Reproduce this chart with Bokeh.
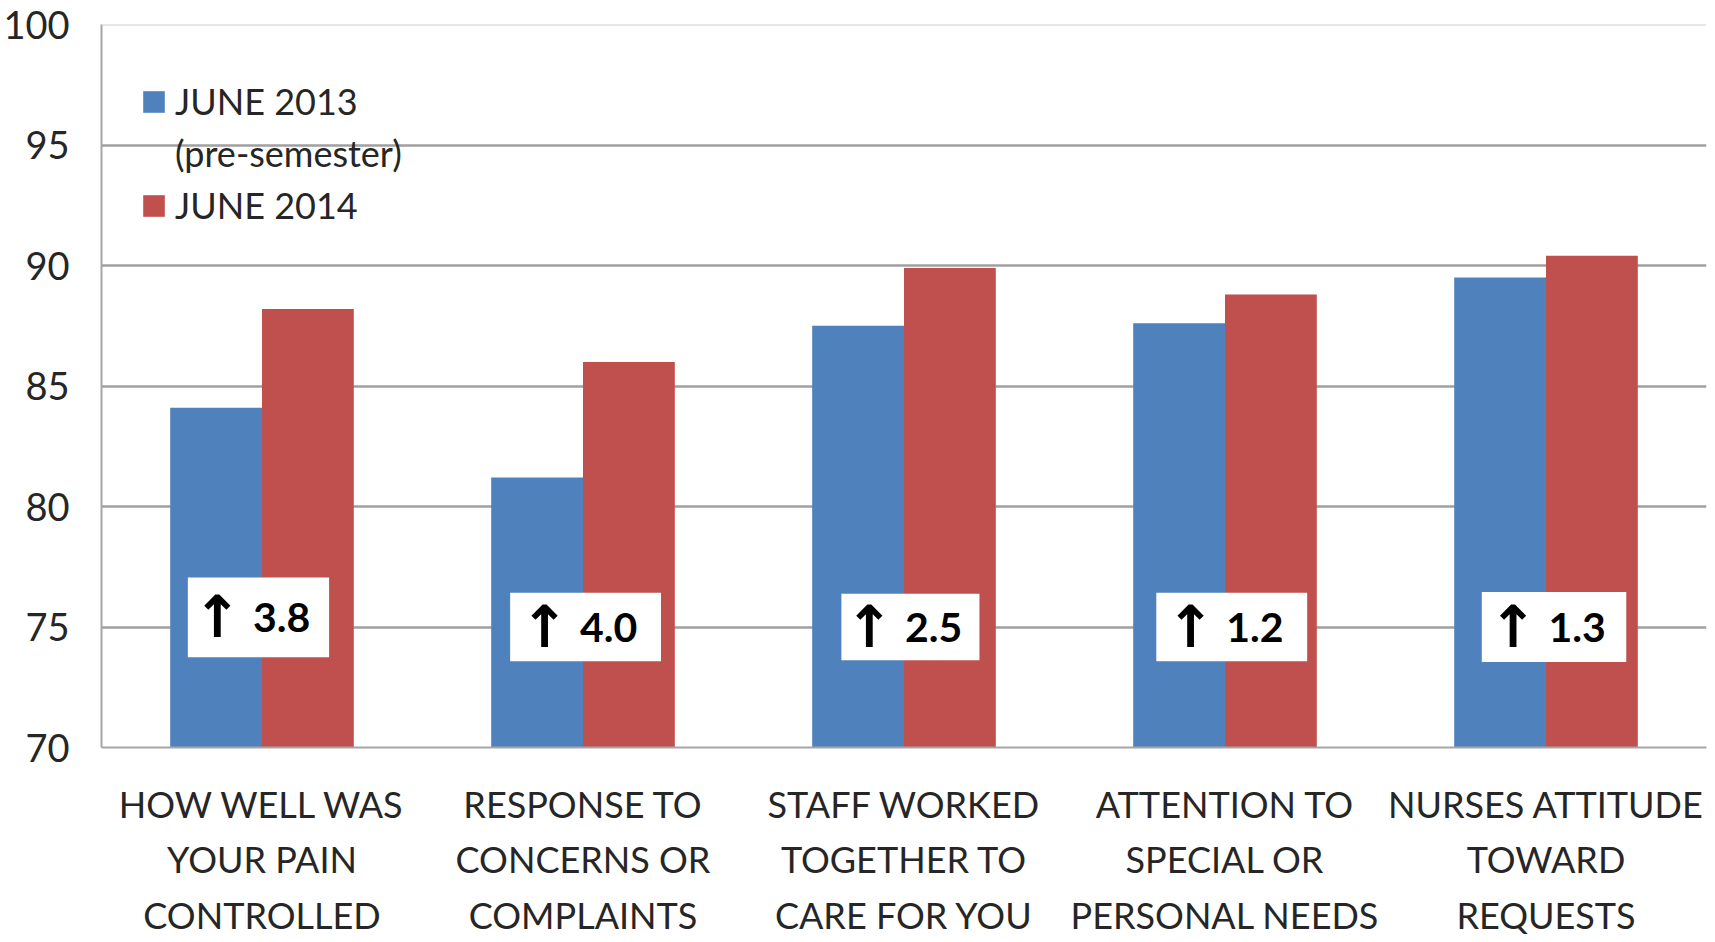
from bokeh.plotting import figure
from bokeh.models import (ColumnDataSource, Range1d, FixedTicker, Legend, LegendItem, Span)
from bokeh.core.properties import value
from bokeh.embed import file_html
from bokeh.resources import INLINE

# Survey items (HCAHPS-style questions)
categories = [
    "HOW WELL WAS\nYOUR PAIN\nCONTROLLED",
    "RESPONSE TO\nCONCERNS OR\nCOMPLAINTS",
    "STAFF WORKED\nTOGETHER TO\nCARE FOR YOU",
    "ATTENTION TO\nSPECIAL OR\nPERSONAL NEEDS",
    "NURSES ATTITUDE\nTOWARD\nREQUESTS",
]
june_2013 = [84.1, 81.2, 87.5, 87.6, 89.5]
june_2014 = [88.2, 86.0, 89.9, 88.8, 90.4]
changes = ["3.8", "4.0", "2.5", "1.2", "1.3"]
y_ticks = [70, 75, 80, 85, 90, 95, 100]

BLUE = "#4f81bd"
RED = "#c0504d"
FONT = "Lato"
TEXT = "#262626"

n = len(categories)
centers = [i + 0.5 for i in range(n)]
bar_w = 0.286

p = figure(width=1715, height=942, output_backend="svg", toolbar_location=None,
           x_range=Range1d(0, n), y_range=Range1d(70, 100),
           min_border_left=101, min_border_right=9, min_border_top=24, min_border_bottom=195)
p.outline_line_color = None
p.background_fill_color = "white"

src = ColumnDataSource(dict(
    x13=[c - bar_w / 2 for c in centers],
    x14=[c + bar_w / 2 for c in centers],
    v13=june_2013, v14=june_2014,
))
r13 = p.vbar(x="x13", top="v13", bottom=70, width=bar_w, source=src,
             fill_color=BLUE, line_color=None)
r14 = p.vbar(x="x14", top="v14", bottom=70, width=bar_w, source=src,
             fill_color=RED, line_color=None)
# legend-only entry for the second line of the first label
r_note = p.vbar(x=[], top=[], bottom=70, width=bar_w, fill_color=None, line_color=None)

# change call-out boxes
box_dx = [-0.011, 0.008, 0.020, 0.021, 0.025]
box_y = [75.4, 75.0, 75.0, 75.0, 75.0]
box_w = [0.44, 0.47, 0.43, 0.47, 0.45]
box_h = [3.3, 2.85, 2.75, 2.85, 2.9]
bx = [c + d for c, d in zip(centers, box_dx)]
bsrc = ColumnDataSource(dict(x=bx, y=box_y, w=box_w, h=box_h,
                             ax=[x - 0.128 for x in bx], nx=[x + 0.072 for x in bx],
                             t=changes, a=["\u2191"] * n))
p.rect(x="x", y="y", width="w", height="h", source=bsrc,
       fill_color="white", line_color=None)
p.text(x="ax", y="y", text="a", source=bsrc, text_align="center", text_baseline="middle",
       text_font=value("DejaVu Sans"), text_font_style="bold", text_font_size="58px",
       text_color="black")
p.text(x="nx", y="y", text="t", source=bsrc, text_align="center", text_baseline="middle",
       text_font=value(FONT), text_font_style="bold", text_font_size="41px", text_color="black")

# axes
p.xaxis.ticker = FixedTicker(ticks=centers)
p.xaxis.major_label_overrides = {c: lab for c, lab in zip(centers, categories)}
p.xaxis.major_label_text_font = FONT
p.xaxis.major_label_text_font_size = "36px"
p.xaxis.major_label_text_color = TEXT
p.xaxis.major_label_text_line_height = 1.27
p.xaxis.major_label_standoff = 28
p.xaxis.major_tick_line_color = None
p.xaxis.minor_tick_line_color = None
p.xaxis.axis_line_color = "#a6a6a6"
p.xaxis.axis_line_width = 2

p.yaxis.ticker = FixedTicker(ticks=y_ticks)
p.yaxis.major_label_text_font = FONT
p.yaxis.major_label_text_font_size = "38px"
p.yaxis.major_label_text_color = TEXT
p.yaxis.major_label_standoff = 26
p.yaxis.major_tick_line_color = None
p.yaxis.minor_tick_line_color = None
p.yaxis.axis_line_color = "#a6a6a6"
p.yaxis.axis_line_width = 2

p.xgrid.grid_line_color = None
p.ygrid.grid_line_color = "#a0a0a0"
p.ygrid.grid_line_width = 2.5
p.add_layout(Span(location=100, dimension="width", line_color="#cfcfcf", line_width=2))

legend = Legend(items=[
    LegendItem(label="JUNE 2013", renderers=[r13]),
    LegendItem(label="(pre-semester)", renderers=[r_note]),
    LegendItem(label="JUNE 2014", renderers=[r14]),
], location=(39, 520))
legend.label_text_font = FONT
legend.label_text_font_size = "36px"
legend.label_text_color = TEXT
legend.glyph_width = 27
legend.glyph_height = 27
legend.label_standoff = 8
legend.padding = 0
legend.margin = 0
legend.spacing = 8
legend.border_line_color = None
legend.background_fill_alpha = 0
p.add_layout(legend)

open("out.html", "w").write(file_html(p, INLINE))
